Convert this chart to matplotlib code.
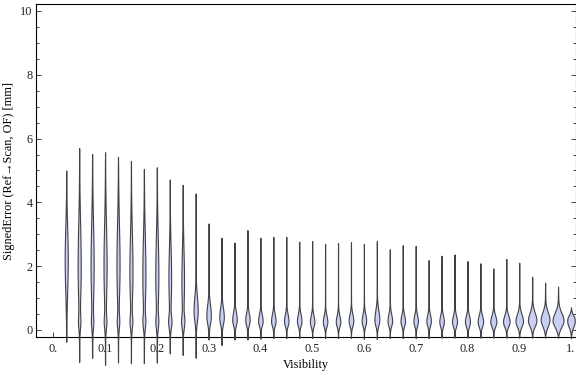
import numpy as np
import matplotlib
matplotlib.use("Agg")
import matplotlib.pyplot as plt
from matplotlib.ticker import MultipleLocator

plt.rcParams['font.family'] = ['Liberation Serif', 'DejaVu Serif']

# visibility bins (centres of the violins)
visibility = [0.025, 0.05, 0.075, 0.1, 0.125, 0.15, 0.175, 0.2, 0.225, 0.25,
              0.275, 0.3, 0.325, 0.35, 0.375, 0.4, 0.425, 0.45, 0.475, 0.5,
              0.525, 0.55, 0.575, 0.6, 0.625, 0.65, 0.675, 0.7, 0.725, 0.75,
              0.775, 0.8, 0.825, 0.85, 0.875, 0.9, 0.925, 0.95, 0.975, 1.0]

# extremes of each distribution [mm]
err_max = [5.00, 5.70, 5.52, 5.57, 5.43, 5.30, 5.05, 5.10, 4.72, 4.55,
           4.28, 3.34, 2.89, 2.74, 3.13, 2.89, 2.92, 2.92, 2.77, 2.79,
           2.70, 2.72, 2.75, 2.70, 2.79, 2.53, 2.66, 2.64, 2.19, 2.33,
           2.37, 2.16, 2.09, 1.93, 2.23, 2.11, 1.67, 1.48, 1.36, 0.71]
err_min = [-0.37, -1.00, -0.88, -1.10, -1.02, -1.04, -1.04, -1.02, -0.73, -0.78,
           -0.87, -0.30, -0.47, -0.30, -0.30, -0.27, -0.25, -0.25, -0.25, -0.25,
           -0.25, -0.25, -0.25, -0.28, -0.28, -0.25, -0.25, -0.25, -0.25, -0.24,
           -0.24, -0.24, -0.24, -0.24, -0.24, -0.24, -0.24, -0.24, -0.24, -0.26]

# where each body is widest, and how far it spreads below / above that
peak_at = [2.2, 2.0, 2.0, 2.0, 2.0, 1.8, 1.7, 1.7, 1.6, 1.5,
           0.60, 0.45, 0.40, 0.32, 0.32, 0.28, 0.28, 0.28, 0.28, 0.26,
           0.26, 0.26, 0.28, 0.28, 0.32, 0.28, 0.28, 0.28, 0.28, 0.26,
           0.26, 0.26, 0.26, 0.26, 0.26, 0.28, 0.30, 0.32, 0.30, 0.28]
spread_below = [1.0, 1.1, 1.1, 1.1, 1.0, 0.9, 0.9, 0.9, 0.8, 0.8,
                0.32, 0.25, 0.22, 0.17, 0.17, 0.15, 0.15, 0.15, 0.15, 0.15,
                0.15, 0.15, 0.15, 0.15, 0.18, 0.15, 0.15, 0.15, 0.15, 0.15,
                0.15, 0.15, 0.15, 0.15, 0.15, 0.17, 0.18, 0.20, 0.20, 0.18]
spread_above = [1.0, 1.3, 1.3, 1.3, 1.3, 1.2, 1.2, 1.2, 1.0, 1.0,
                0.45, 0.35, 0.30, 0.25, 0.22, 0.22, 0.22, 0.22, 0.22, 0.20,
                0.20, 0.20, 0.22, 0.22, 0.30, 0.22, 0.20, 0.20, 0.20, 0.20,
                0.20, 0.20, 0.20, 0.20, 0.20, 0.22, 0.24, 0.24, 0.24, 0.22]
lower_lobe = [0.0, 0.5, 0.5, 0.6, 0.6, 0.7, 0.7, 0.7, 1.0, 1.0,
              0, 0, 0, 0, 0, 0, 0, 0, 0, 0,
              0, 0, 0, 0, 0, 0, 0, 0, 0, 0,
              0, 0, 0, 0, 0, 0, 0, 0, 0, 0]
body_width = [0.006, 0.006, 0.006, 0.006, 0.006, 0.006, 0.006, 0.006, 0.0065, 0.0065,
              0.0080, 0.0087, 0.0087, 0.0087, 0.0085, 0.0087, 0.0087, 0.0087, 0.0087, 0.0087,
              0.0087, 0.0087, 0.0090, 0.0087, 0.0095, 0.0090, 0.0087, 0.0087, 0.0087, 0.0087,
              0.0097, 0.0097, 0.0106, 0.0116, 0.0126, 0.0145, 0.0164, 0.0170, 0.0212, 0.0145]

xtick_vals = [0.0, 0.1, 0.2, 0.3, 0.4, 0.5, 0.6, 0.7, 0.8, 0.9, 1.0]
xtick_text = ["0.", "0.1", "0.2", "0.3", "0.4", "0.5", "0.6", "0.7", "0.8", "0.9", "1."]


def violin_stats(lo, hi, peak, s_lo, s_hi, lobe):
    y = np.linspace(lo, hi, 400)
    s = np.where(y < peak, s_lo, s_hi)
    dens = np.exp(-0.5 * ((y - peak) / s) ** 2)
    dens = dens + lobe * np.exp(-0.5 * ((y - 0.25) / 0.2) ** 2)
    dens = dens + 0.03
    dens = dens * np.clip((hi - y) / 0.3, 0, 1) * np.clip((y - lo) / 0.12, 0, 1)
    return dict(coords=y, vals=dens, mean=peak, median=peak,
                min=lo, max=hi, quantiles=[])


stats = [violin_stats(*p) for p in zip(err_min, err_max, peak_at,
                                       spread_below, spread_above, lower_lobe)]

fig = plt.figure(figsize=(5.76, 3.77), dpi=100)
ax = fig.add_axes([36 / 576, 39.7 / 377, 539.5 / 576, 333 / 377])

parts = ax.violin(stats, positions=visibility, widths=body_width,
                  showmeans=False, showextrema=False, showmedians=False)
for b in parts['bodies']:
    b.set_facecolor('#c9cff2')
    b.set_edgecolor('#404048')
    b.set_linewidth(0.8)
    b.set_alpha(1)
    b.set_clip_on(False)
    b.set_zorder(3)

ax.set_xlim(-0.0334, 1.0087)
ax.set_ylim(-0.229, 10.21)
ax.set_xticks(xtick_vals)
ax.set_xticklabels(xtick_text)
ax.yaxis.set_major_locator(MultipleLocator(2))
ax.yaxis.set_minor_locator(MultipleLocator(0.5))
ax.tick_params(which='both', direction='in', right=True, top=False,
               labelsize=8.8, width=0.6, colors='#222222')
ax.tick_params(which='major', length=3.6)
ax.tick_params(which='minor', length=2.2)
ax.tick_params(axis='x', pad=4)
ax.tick_params(axis='y', pad=2.5)
for sp in ax.spines.values():
    sp.set_linewidth(0.8)

ax.set_xlabel("Visibility", fontsize=8.8, labelpad=3)
ax.set_ylabel("SignedError (Ref\u2192Scan, OF) [mm]", fontsize=8.8, labelpad=4)

fig.savefig("out.png", dpi=100)
